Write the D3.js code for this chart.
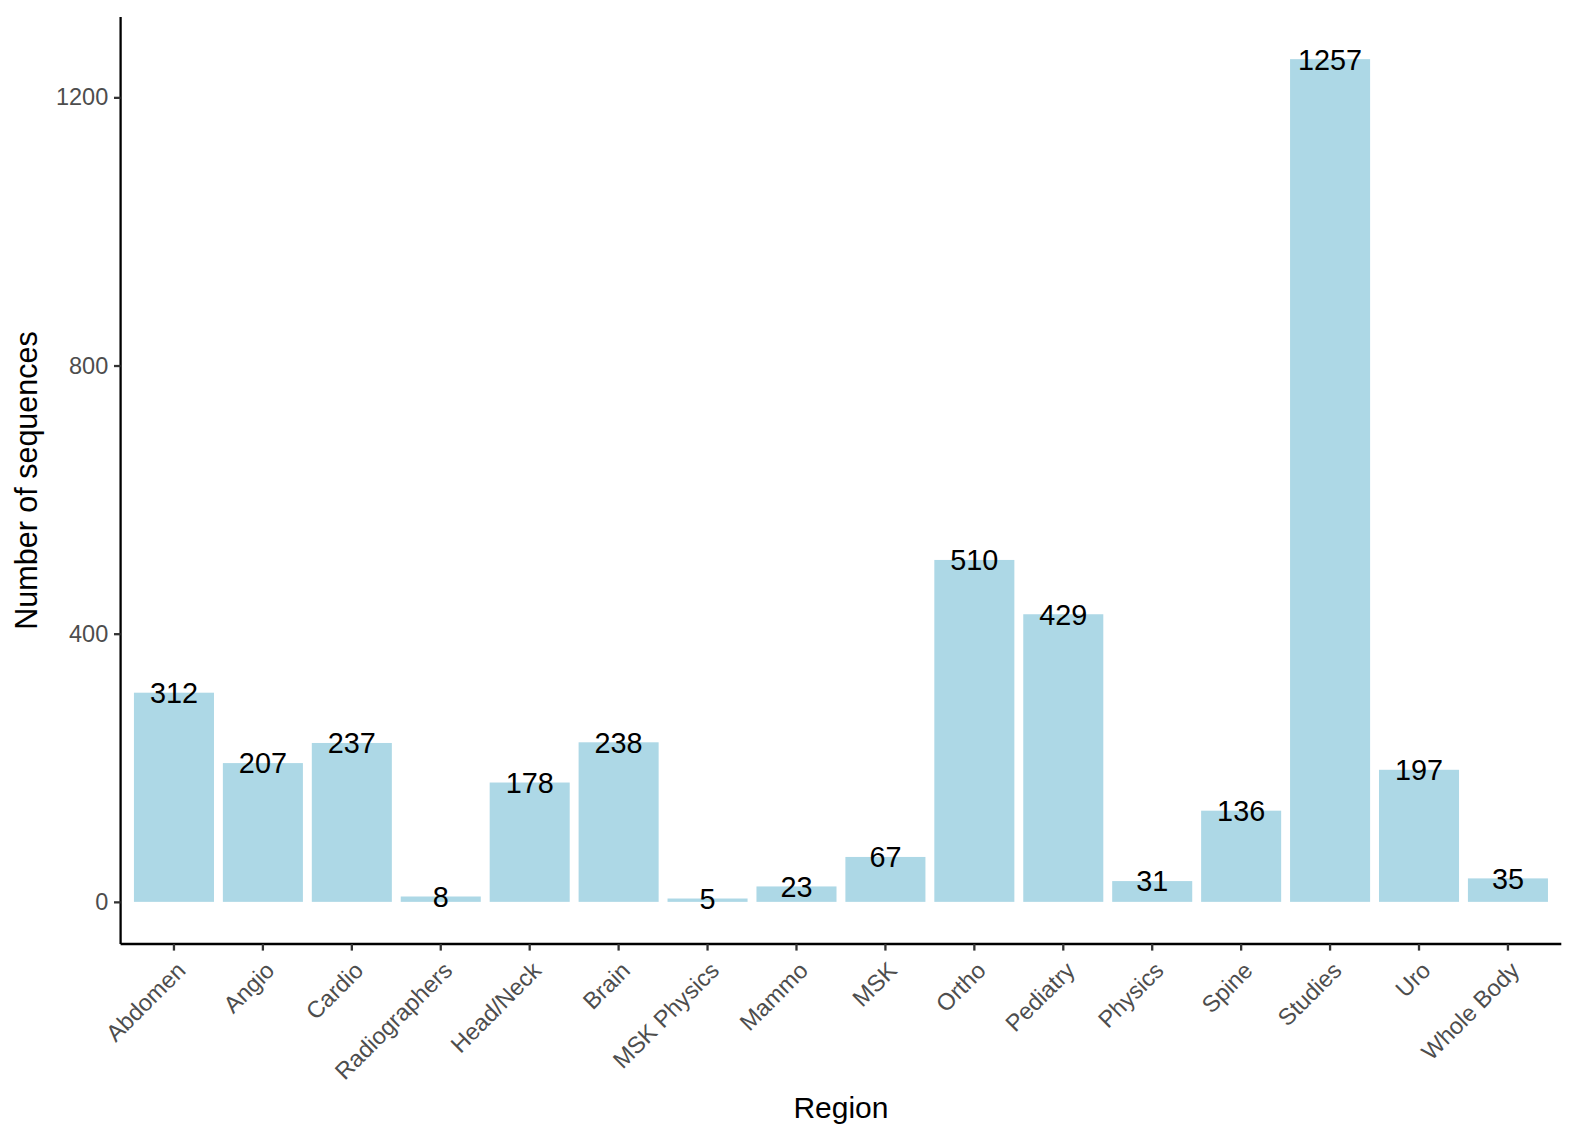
<!DOCTYPE html>
<html>
<head>
<meta charset="utf-8">
<script src="https://cdn.jsdelivr.net/npm/d3@7"></script>
<style>
  html, body { margin: 0; padding: 0; background: #fff; overflow: hidden; }
  svg { display: block; }
  text { font-family: "Liberation Sans", Arial, Helvetica, sans-serif; }
</style>
</head>
<body>
<script>
const regions = ["Abdomen", "Angio", "Cardio", "Radiographers", "Head/Neck", "Brain",
  "MSK Physics", "Mammo", "MSK", "Ortho", "Pediatry", "Physics", "Spine", "Studies", "Uro", "Whole Body"];
const counts = [312, 207, 237, 8, 178, 238, 5, 23, 67, 510, 429, 31, 136, 1257, 197, 35];
const yTicks = [0, 400, 800, 1200];

const width = 1578, height = 1142;
const margin = {top: 17, right: 16.7, bottom: 198, left: 120.6};
const panelW = width - margin.left - margin.right;
const panelH = height - margin.top - margin.bottom;

const svg = d3.select("body").append("svg")
  .attr("width", width)
  .attr("height", height);

// ggplot-ish expansion: 0.6 units on discrete x, 5% on continuous y
const n = regions.length;
const step = panelW / (n + 0.2);
const x = d3.scaleBand()
  .domain(regions)
  .range([0.6 * step - step / 2, panelW - 0.6 * step + step / 2])
  .paddingInner(0.1)
  .paddingOuter(0.05);

const maxV = d3.max(counts);
const y = d3.scaleLinear()
  .domain([-0.05 * maxV, maxV * 1.05])
  .range([panelH, 0]);

const g = svg.append("g").attr("transform", `translate(${margin.left},${margin.top})`);

// bars
g.selectAll(".bar")
  .data(regions)
  .enter()
  .append("rect")
  .attr("class", "bar")
  .attr("x", (d) => x(d))
  .attr("width", x.bandwidth())
  .attr("y", (d, i) => y(counts[i]))
  .attr("height", (d, i) => y(0) - y(counts[i]))
  .attr("fill", "#ADD8E6");

// value labels
g.selectAll(".label")
  .data(regions)
  .enter()
  .append("text")
  .attr("class", "label")
  .attr("x", (d) => x(d) + x.bandwidth() / 2)
  .attr("y", (d, i) => y(counts[i]))
  .attr("dy", "0.36em")
  .attr("text-anchor", "middle")
  .attr("font-size", 28.8)
  .attr("fill", "#000")
  .text((d, i) => counts[i]);

// y axis
const yAxis = g.append("g")
  .call(d3.axisLeft(y).tickValues(yTicks).tickSize(6.6).tickPadding(5.8).tickFormat(d3.format("d")));
yAxis.select(".domain").attr("stroke", "#000").attr("stroke-width", 2.3)
  .attr("d", `M0,${panelH}V0`);
yAxis.selectAll(".tick line").attr("stroke", "#333").attr("stroke-width", 2.3);
yAxis.selectAll(".tick text").attr("font-size", 23.5).attr("fill", "#4D4D4D")
  .attr("font-family", "Liberation Sans, Arial, sans-serif");

// x axis
const xAxis = g.append("g")
  .attr("transform", `translate(0,${panelH})`)
  .call(d3.axisBottom(x).tickSize(6.6).tickPadding(0));
xAxis.select(".domain").attr("stroke", "#000").attr("stroke-width", 2.3)
  .attr("d", `M0,0H${panelW}`);
xAxis.selectAll(".tick line").attr("stroke", "#333").attr("stroke-width", 2.3);
xAxis.selectAll(".tick text")
  .attr("font-size", 23.5)
  .attr("fill", "#4D4D4D")
  .attr("font-family", "Liberation Sans, Arial, sans-serif")
  .attr("text-anchor", "end")
  .attr("y", 0)
  .attr("dy", "0.72em")
  .attr("transform", "translate(1,16) rotate(-45)");

// axis titles
svg.append("text")
  .attr("x", margin.left + panelW / 2)
  .attr("y", 1118)
  .attr("text-anchor", "middle")
  .attr("font-size", 30)
  .attr("fill", "#000")
  .text("Region");

svg.append("text")
  .attr("transform", `translate(37,${margin.top + panelH / 2}) rotate(-90)`)
  .attr("text-anchor", "middle")
  .attr("font-size", 30.5)
  .attr("fill", "#000")
  .text("Number of sequences");
</script>
</body>
</html>
